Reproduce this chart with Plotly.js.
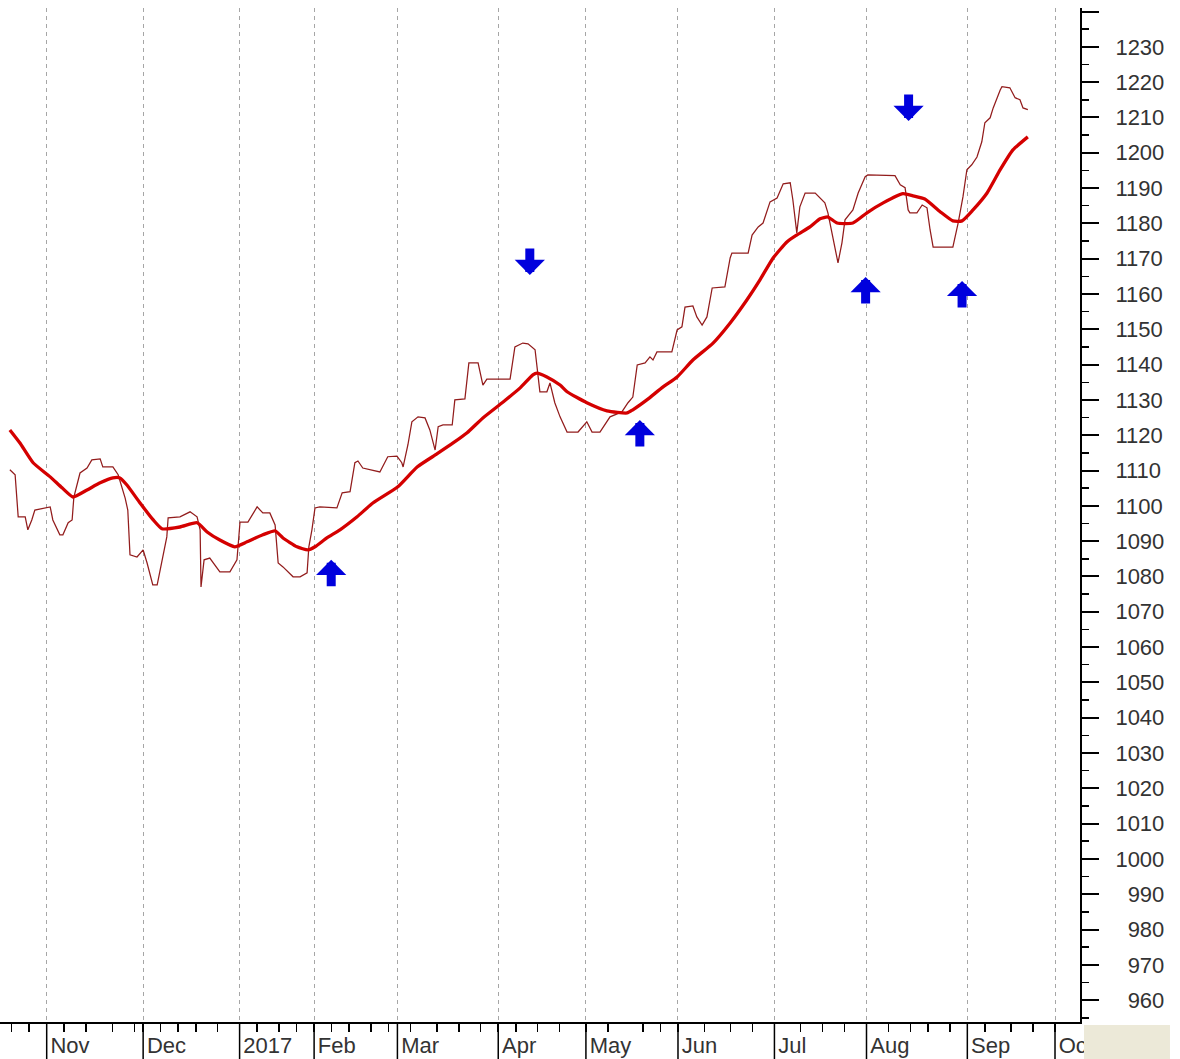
<!DOCTYPE html>
<html><head><meta charset="utf-8">
<script src="https://cdn.plot.ly/plotly-3.0.1.min.js"></script>
<style>html,body{margin:0;padding:0;background:#fff;overflow:hidden;} #chart{width:1180px;height:1059px;}</style>
</head><body><div id="chart"></div>
<script>
// x unit: trading-bar index (0 = first bar of Nov 2016)
const closeDays = [-8.4,-7.2,-6.5,-4.9,-4.3,-3.4,-2.7,0.8,1.4,3.0,
 3.7,4.9,5.8,6.2,7.6,9.2,10.3,12.2,12.8,15.1,
 16.3,17.2,17.9,18.5,19.0,20.6,22.0,22.9,24.2,25.2,
 26.5,27.4,27.7,30.4,32.7,34.3,35.0,35.2,35.9,37.2,
 39.5,41.8,43.4,44.1,45.9,48.0,49.3,50.9,52.1,52.8,
 53.9,56.2,57.8,59.4,59.8,60.5,61.2,62.3,66.2,67.4,
 69.2,70.3,71.0,72.1,76.0,77.8,79.9,81.0,81.3,82.4,
 83.3,84.7,86.3,87.4,88.6,89.3,90.4,92.5,93.1,95.4,
 96.3,98.4,99.5,100.4,105.7,106.8,108.6,109.8,111.4,112.1,
 112.5,114.1,114.8,115.9,117.1,118.7,121.2,123.2,124.4,126.2,
 128.5,131.2,132.6,133.7,134.7,136.5,137.6,138.3,139.2,142.6,
 143.3,143.8,144.9,145.6,147.4,148.3,149.5,150.6,151.8,154.7,
 155.9,156.3,160.0,160.9,162.3,163.4,165.0,166.6,168.0,169.6,
 170.2,171.1,171.8,173.0,175.3,177.5,178.2,179.4,180.5,181.4,
 182.1,183.9,185.1,186.7,187.3,193.5,194.7,195.8,196.5,196.9,
 198.5,199.7,200.8,201.5,202.2,206.7,207.9,209.0,209.9,211.0,
 212.2,213.3,214.0,215.2,215.9,217.5,217.9,219.7,220.9,222.0,222.7,223.8];
const closeValues = [1110.2,1108.8,1096.9,1096.9,1093.2,1096.0,1098.8,1099.7,1096.0,1091.8,
 1091.8,1095.2,1096.0,1102.5,1109.3,1110.7,1113.0,1113.3,1111.0,1111.0,
 1108.8,1105.4,1102.2,1098.8,1086.1,1085.5,1087.5,1083.8,1077.6,1077.6,
 1085.5,1091.2,1096.6,1096.9,1098.3,1096.9,1093.2,1077.0,1084.7,1085.2,
 1081.3,1081.3,1084.7,1095.4,1095.4,1099.7,1098.0,1098.0,1094.6,1083.8,
 1082.7,1079.9,1079.9,1081.0,1088.4,1093.2,1099.4,1099.7,1099.4,1103.7,
 1104.0,1112.2,1112.7,1110.7,1109.6,1113.9,1114.1,1112.2,1111.0,1117.3,
 1123.8,1125.2,1124.9,1121.5,1115.8,1122.4,1122.9,1122.9,1130.0,1130.3,
 1140.5,1140.5,1134.2,1135.9,1135.9,1145.0,1146.1,1145.9,1144.2,1137.6,
 1132.3,1132.3,1134.8,1129.2,1125.2,1120.9,1120.9,1123.8,1120.9,1120.9,
 1125.2,1126.6,1129.2,1130.8,1139.9,1140.5,1142.2,1141.3,1143.6,1143.6,
 1147.0,1149.8,1150.7,1156.3,1156.6,1153.5,1151.2,1153.5,1161.7,1162.0,
 1170.2,1171.6,1171.6,1176.7,1179.0,1180.1,1186.1,1187.2,1191.2,1191.5,
 1186.7,1177.3,1184.7,1188.6,1188.6,1185.8,1183.0,1175.3,1168.8,1174.5,
 1181.0,1183.8,1188.6,1193.2,1193.7,1193.5,1190.9,1190.1,1183.8,1183.0,
 1183.0,1185.2,1184.4,1178.2,1173.3,1173.3,1180.1,1187.5,1195.2,1196.6,
 1198.8,1203.1,1208.5,1209.9,1212.7,1217.8,1218.7,1218.4,1215.6,1215.0,1212.7,1212.2];

const maDays = [-8.4,-6.1,-3.1,0.8,3.5,6.0,9.2,12.2,15.1,16.7,
 18.3,21.3,24.3,26.3,30.4,34.3,36.6,39.5,42.9,45.7,
 49.3,52.1,53.9,57.1,59.6,61.2,63.9,66.9,70.8,74.4,
 80.1,84.5,89.0,92.7,95.9,99.5,104.1,108.0,110.9,111.8,
 114.1,117.1,118.7,123.2,127.8,132.4,133.7,136.9,140.6,143.8,
 147.4,152.0,155.9,159.7,162.7,165.7,168.9,171.1,174.1,176.4,
 178.2,180.3,183.9,187.1,190.8,195.3,197.6,200.3,203.8,206.7,
 208.8,211.3,214.5,217.5,220.4,223.8];
const maValues = [1121.5,1117.8,1112.2,1108.2,1105.1,1102.5,1104.5,1106.5,1107.9,1107.9,
 1105.9,1100.8,1096.0,1093.5,1094.0,1095.2,1092.6,1090.3,1088.4,1089.8,
 1091.8,1092.9,1090.9,1088.4,1087.5,1088.4,1090.9,1093.2,1096.9,1100.8,
 1105.4,1111.0,1114.7,1117.8,1120.7,1124.9,1129.4,1133.4,1137.1,1137.6,
 1136.5,1134.2,1132.3,1129.2,1126.9,1126.3,1127.2,1130.0,1133.7,1136.5,
 1141.3,1146.1,1151.8,1158.3,1164.0,1170.2,1174.8,1176.7,1179.0,1181.3,
 1181.8,1180.1,1180.1,1183.0,1185.8,1188.4,1187.8,1186.9,1183.3,1180.7,
 1180.7,1183.8,1188.6,1195.2,1200.8,1204.5];

const monthTickDays = [0,22,44,61,80,103,123,144,166,187,210,230];
const monthLabels = ['Nov','Dec','2017','Feb','Mar','Apr','May','Jun','Jul','Aug','Sep','Oct'];
const weekTickDays = [-8,-4,4,9,15,20,26,30,34,39,48,53,57,65,69,74,78,83,89,94,99,107,112,117,128,136,140,150,156,161,172,177,182,192,197,201,206,214,220,225];

const priceTicks = [960,970,980,990,1000,1010,1020,1030,1040,1050,1060,1070,1080,1090,1100,1110,1120,1130,1140,1150,1160,1170,1180,1190,1200,1210,1220,1230,1240];

const signalDays = [64.9,110.2,135.3,186.8,196.6,208.8];
const signalValues = [1084.7,1165.4,1124.3,1164.8,1209.0,1163.7];
const signalDirections = ['up','down','up','up','down','up'];

const FONT = 'Liberation Sans, Arial, sans-serif';
const priceLabels = priceTicks.map(v => v >= 1240 ? '' : (v < 1000 ? '\u2007' + v : String(v)));
const minorPriceTicks = priceTicks.map(v => v - 5);

const traces = [
  {x: closeDays, y: closeValues, type: 'scatter', mode: 'lines',
   line: {color: '#921C1C', width: 1.25}, hoverinfo: 'skip'},
  {x: maDays, y: maValues, type: 'scatter', mode: 'lines',
   line: {color: '#D40000', width: 3.3, shape: 'spline', smoothing: 0.5}, hoverinfo: 'skip'}
];

const annotations = signalDays.map((d, i) => ({
  x: d, y: signalValues[i], xref: 'x', yref: 'y', text: '',
  showarrow: true, arrowhead: 1, arrowsize: 0.56, arrowwidth: 9, arrowcolor: '#0000DD',
  ax: 0, ay: signalDirections[i] === 'up' ? 28 : -28
}));

const shapes = monthTickDays.map(d => ({
  type: 'line', xref: 'x', yref: 'paper', x0: d, x1: d, y0: 0, y1: -0.04,
  line: {color: '#000', width: 1.5}
}));
shapes.push({type: 'rect', xref: 'paper', yref: 'paper', x0: 1.0037, x1: 1.0833, y0: -0.04, y1: -0.003,
  fillcolor: '#ECE9D8', line: {width: 0}, layer: 'above'});

const layout = {
  width: 1180, height: 1059,
  margin: {l: 0, r: 100, t: 8, b: 37, pad: 0},
  paper_bgcolor: '#fff', plot_bgcolor: '#fff',
  showlegend: false,
  font: {family: FONT, size: 22, color: '#333'},
  xaxis: {
    type: 'linear', range: [-10.65, 235.7],
    tickmode: 'array', tickvals: monthTickDays, ticktext: monthLabels,
    ticks: 'outside', ticklen: 8, tickwidth: 1.5, tickcolor: '#000',
    showline: true, linecolor: '#000', linewidth: 2,
    showgrid: true, gridcolor: '#A6A6A6', gridwidth: 1, griddash: '4px,4px',
    zeroline: false,
    ticklabelposition: 'outside right',
    ticklabelstandoff: 3,
    ticklabelshift: 2,
    tickfont: {family: FONT, size: 22, color: '#333'},
    minor: {tickmode: 'array', tickvals: weekTickDays, ticks: 'outside', ticklen: 8,
            tickwidth: 1.5, tickcolor: '#000', showgrid: false},
    fixedrange: true
  },
  yaxis: {
    side: 'right', range: [953.8, 1241],
    tickmode: 'array', tickvals: priceTicks, ticktext: priceLabels,
    ticks: 'outside', ticklen: 17, tickwidth: 2, tickcolor: '#000',
    showline: true, linecolor: '#000', linewidth: 2,
    showgrid: false, zeroline: false,
    ticklabelstandoff: 12,
    tickfont: {family: FONT, size: 22, color: '#333'},
    minor: {tickmode: 'array', tickvals: minorPriceTicks, ticks: 'outside', ticklen: 7,
            tickwidth: 1.5, tickcolor: '#000', showgrid: false},
    fixedrange: true
  },
  annotations: annotations,
  shapes: shapes
};

Plotly.newPlot('chart', traces, layout, {displayModeBar: false, staticPlot: true});
</script>
</body></html>
